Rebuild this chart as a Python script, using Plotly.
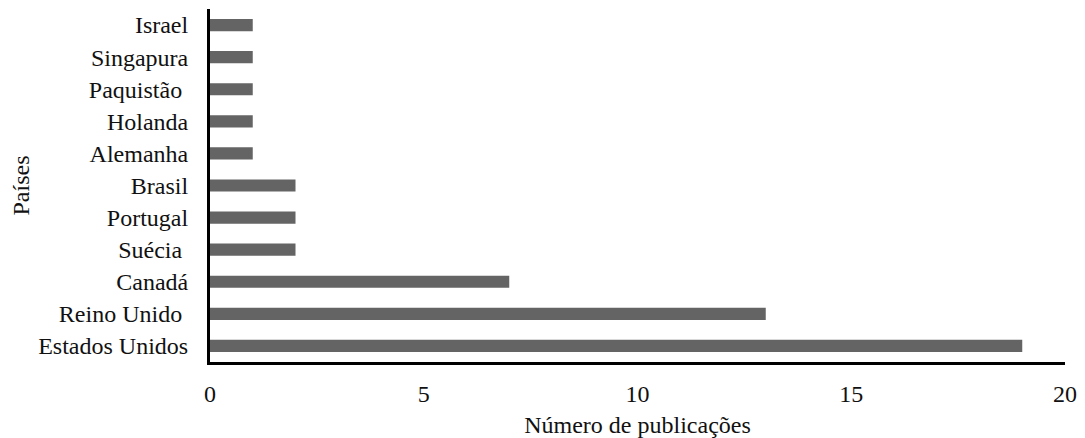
import plotly.graph_objects as go

paises = ["Estados Unidos", "Reino Unido\u00a0", "Canadá", "Suécia\u00a0", "Portugal", "Brasil",
          "Alemanha", "Holanda", "Paquistão\u00a0", "Singapura", "Israel"]
publicacoes = [19, 13, 7, 2, 2, 2, 1, 1, 1, 1, 1]
x_ticks = [0, 5, 10, 15, 20]

FONT = "Liberation Serif"

fig = go.Figure(go.Bar(
    y=paises, x=publicacoes, orientation="h",
    marker=dict(color="#646464", line=dict(width=0)),
    width=0.38,
))

# page has an 8px body margin, so the figure is sized/offset to compensate
fig.update_layout(
    width=1077, height=430,
    margin=dict(l=202, r=20, t=1, b=76),
    paper_bgcolor="white", plot_bgcolor="white",
    font=dict(family=FONT, size=24, color="#111111"),
    showlegend=False,
)
fig.update_xaxes(
    range=[0, 20], tickvals=x_ticks, showgrid=False, zeroline=False,
    showline=True, linecolor="black", linewidth=3, ticks="",
    ticklabelstandoff=8, automargin=False,
    title=dict(text="Número de publicações", standoff=13, font=dict(size=24)),
)
fig.update_yaxes(
    type="category", categoryorder="array", categoryarray=paises,
    range=[-0.5, 10.5], showgrid=False, zeroline=False,
    showline=True, linecolor="black", linewidth=3, ticks="",
    ticklabelstandoff=14, automargin=False,
    title=dict(text="Países", standoff=5, font=dict(size=24)),
)

fig.write_html("out.html")
